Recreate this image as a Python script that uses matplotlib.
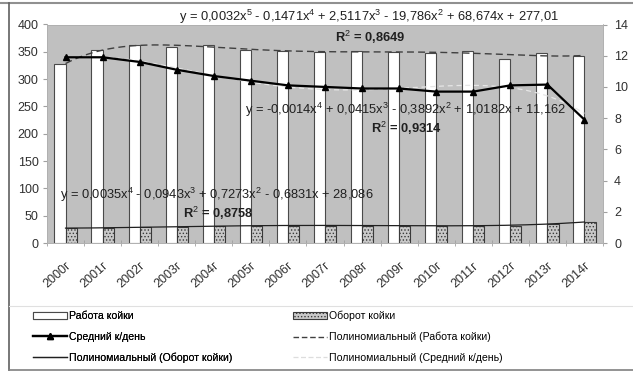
import numpy as np
import matplotlib
matplotlib.use("Agg")
import matplotlib.pyplot as plt
import matplotlib.transforms as mtransforms
from matplotlib.lines import Line2D
from matplotlib.patches import Patch

plt.rcParams['font.family'] = ['Liberation Sans', 'DejaVu Sans']
plt.rcParams['mathtext.fontset'] = 'custom'
plt.rcParams['mathtext.rm'] = 'Liberation Sans'
plt.rcParams['mathtext.bf'] = 'Liberation Sans:bold'
plt.rcParams['hatch.color'] = '#404040'
plt.rcParams['hatch.linewidth'] = 0.6

# data
years = ['2000г', '2001г', '2002г', '2003г', '2004г', '2005г', '2006г', '2007г',
         '2008г', '2009г', '2010г', '2011г', '2012г', '2013г', '2014г']
rabota = [328, 354, 363, 358, 362, 353, 352, 350, 351, 349, 348, 352, 337, 348, 342]
oborot = [27, 28, 29, 30, 31, 31, 32, 32, 32, 32, 32, 32, 32, 34, 39]
sredniy = [11.9, 11.9, 11.6, 11.1, 10.7, 10.4, 10.1, 10.0, 9.9, 9.9, 9.7, 9.7, 10.1, 10.15, 7.9]

eq_rabota = 'y = 0,0032x$^{5}$ - 0,1471x$^{4}$ + 2,5117x$^{3}$ - 19,786x$^{2}$ + 68,674x + 277,01'
eq_sredniy = 'y = -0,0014x$^{4}$ + 0,0415x$^{3}$ - 0,3892x$^{2}$ + 1,0182x + 11,162'
eq_oborot = 'y = 0,0035x$^{4}$ - 0,0943x$^{3}$ + 0,7273x$^{2}$ - 0,6831x + 28,086'
r2_rabota = 'R$^{2}$ = 0,8649'
r2_sredniy = 'R$^{2}$ = 0,9314'
r2_oborot = 'R$^{2}$ = 0,8758'

W, H = 633, 374
fig = plt.figure(figsize=(W / 100, H / 100), dpi=100)
ax = fig.add_axes([47 / W, 1 - 243 / H, 556 / W, 218.5 / H])
ax.set_facecolor('#c0c0c0')

x = np.arange(len(years))
bw = 0.3
ax.bar(x - bw / 2, rabota, bw, color='white', edgecolor='#4a4a4a', linewidth=0.8, zorder=2)
ax.bar(x + bw / 2, oborot, bw, color='#c8c8c8', edgecolor='#3a3a3a', linewidth=0.8,
       hatch='.....', zorder=2)

# polynomial trendlines fitted to the series (x = 1..15 as in Excel)
xs = np.linspace(1, len(years), 300)
p_rab = np.polyfit(x + 1, rabota, 5)
p_obo = np.polyfit(x + 1, oborot, 4)
p_sre = np.polyfit(x + 1, sredniy, 4)
ax.plot(xs - 1, np.polyval(p_rab, xs), color='#404040', ls=(0, (5, 3)), lw=1.0, zorder=3)
ax.plot(xs - 1, np.polyval(p_obo, xs), color='#202020', lw=0.9, zorder=3)

ax.set_xlim(-0.5, len(years) - 0.5)
ax.set_ylim(0, 400)
ax.set_yticks(range(0, 401, 50))
ax.set_xticks(x)
ax.set_xticklabels(years, rotation=42, ha='right', rotation_mode='anchor', fontsize=9, color='#303030')
shift = mtransforms.ScaledTranslation(-0.04, 0, fig.dpi_scale_trans)
for lab in ax.get_xticklabels():
    lab.set_transform(lab.get_transform() + shift)
ax.set_xticks(np.arange(-0.5, len(years), 1), minor=True)
ax.tick_params(axis='x', which='major', length=0, pad=12)
ax.tick_params(axis='x', which='minor', length=4, direction='inout', color='#a0a0a0')
ax.tick_params(axis='y', length=3, color='#a0a0a0', labelsize=9, labelcolor='#303030', pad=3)

ax2 = ax.twinx()
ax2.set_ylim(0, 14)
ax2.set_yticks(range(0, 15, 2))
ax2.tick_params(axis='y', length=3, color='#a0a0a0', labelsize=9, labelcolor='#303030', pad=5)
ax2.plot(x, sredniy, color='black', lw=1.6, marker='^', ms=5, zorder=4)
ax2.plot(xs - 1, np.polyval(p_sre, xs), color='#e6e6e6', ls=(0, (4, 3)), lw=0.9, zorder=3)

for a in (ax, ax2):
    for s in a.spines.values():
        s.set_color('#b0b0b0')
        s.set_linewidth(0.6)

# trendline equations
fs = 9.3
fig.text(369 / W, 1 - 17 / H, eq_rabota, ha='center', va='center', fontsize=fs, color='#202020')
fig.text(370 / W, 1 - 37 / H, r2_rabota, ha='center', va='center', fontsize=fs, color='#202020', fontweight='bold')
fig.text(406 / W, 1 - 110 / H, eq_sredniy, ha='center', va='center', fontsize=fs, color='#202020')
fig.text(406 / W, 1 - 128 / H, r2_sredniy, ha='center', va='center', fontsize=fs, color='#202020', fontweight='bold')
fig.text(217 / W, 1 - 195 / H, eq_oborot, ha='center', va='center', fontsize=fs, color='#202020')
fig.text(218 / W, 1 - 213 / H, r2_oborot, ha='center', va='center', fontsize=fs, color='#202020', fontweight='bold')

# legend
h_rab = Patch(facecolor='white', edgecolor='#4a4a4a', lw=0.8)
h_obo = Patch(facecolor='#c8c8c8', edgecolor='#3a3a3a', lw=0.8, hatch='.....')
h_sre = Line2D([], [], color='black', lw=1.6, marker='^', ms=5)
h_prab = Line2D([], [], color='#404040', ls=(0, (4, 2)), lw=1.0)
h_pobo = Line2D([], [], color='#202020', lw=0.9)
h_psre = Line2D([], [], color='#dddddd', ls=(0, (4, 2)), lw=0.9)

lk = dict(loc='upper left', frameon=False, fontsize=7.6, handlelength=3.2, handleheight=0.6,
          handletextpad=0.25, labelspacing=1.0, borderpad=0, borderaxespad=0)
leg1 = fig.legend([h_rab, h_sre, h_pobo], ['Работа койки', 'Средний к/день', 'Полиномиальный (Оборот койки)'],
                  bbox_to_anchor=(33 / W, 1 - 311 / H), **lk)
fig.legend([h_obo, h_prab, h_psre], ['Оборот койки', 'Полиномиальный (Работа койки)', 'Полиномиальный (Средний к/день)'],
           bbox_to_anchor=(293 / W, 1 - 311 / H), **lk)
fig.add_artist(leg1)

# outer frame
fig.add_artist(Line2D([0, 1], [1 - 3 / H, 1 - 3 / H], color='#909090', lw=1.5))
fig.add_artist(Line2D([9 / W, 9 / W], [1 - 3 / H, 1 - 370 / H], color='#606060', lw=1.2))
fig.add_artist(Line2D([9 / W, 1], [1 - 370 / H, 1 - 370 / H], color='#808080', lw=1.2))
fig.add_artist(Line2D([9 / W, 1], [1 - 306 / H, 1 - 306 / H], color='#e0e0e0', lw=0.8))

fig.savefig('out.png', dpi=100)
